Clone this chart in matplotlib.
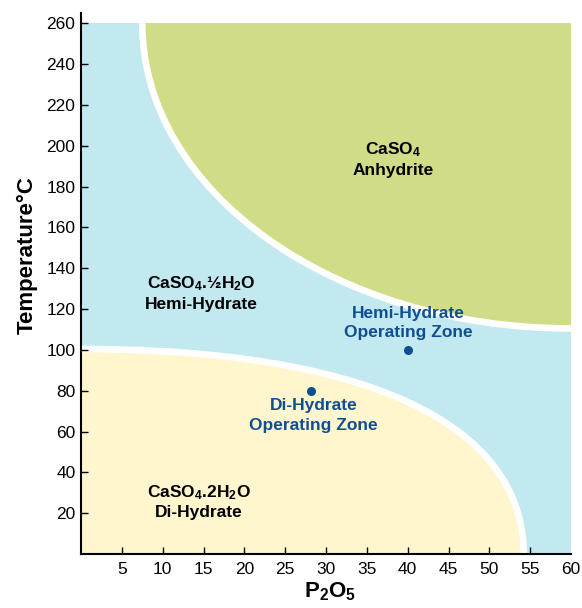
import numpy as np
import matplotlib
matplotlib.use('Agg')
import matplotlib.pyplot as plt
from matplotlib.path import Path
from matplotlib.patches import PathPatch, Rectangle

plt.rcParams['font.family'] = ['Liberation Sans', 'DejaVu Sans']
plt.rcParams['mathtext.fontset'] = 'custom'
plt.rcParams['mathtext.rm'] = 'Liberation Sans:bold'
plt.rcParams['mathtext.it'] = 'Liberation Sans:bold'
plt.rcParams['mathtext.bf'] = 'Liberation Sans:bold'
plt.rcParams['mathtext.default'] = 'rm'

# axis ranges / ticks (P2O5 %, temperature C)
x_ticks = [5, 10, 15, 20, 25, 30, 35, 40, 45, 50, 55, 60]
y_ticks = [20, 40, 60, 80, 100, 120, 140, 160, 180, 200, 220, 240, 260]
x_max = 60
t_max = 260

# phase boundaries: (start, end) of each curve
anhydrite_start = (7.5, 260)
anhydrite_end = (60, 110.5)
dihydrate_start = (0, 100.4)
dihydrate_end = (54.2, 0)

# operating points
op_x = [40, 28.2]
op_y = [100, 80]
op_labels = ['Hemi-Hydrate\nOperating Zone', 'Di-Hydrate\nOperating Zone']

phase_labels = ['CaSO$_4$\nAnhydrite',
                'CaSO$_4$.\u00bdH$_2$O\nHemi-Hydrate',
                'CaSO$_4$.2H$_2$O\nDi-Hydrate']

BLUE = '#c2e9f0'
GREEN = '#d1dc87'
YELLOW = '#fff6ce'
DARK = '#104e92'


def corner_curve(p0, p3, k, mode):
    # cubic bezier for a rounded quarter boundary
    if mode == 'top':  # leaves p0 going down, reaches p3 going right
        p1 = (p0[0], p0[1] - k * (p0[1] - p3[1]))
        p2 = (p3[0] - k * (p3[0] - p0[0]), p3[1])
    else:  # leaves p0 going right, reaches p3 going down
        p1 = (p0[0] + k * (p3[0] - p0[0]), p0[1])
        p2 = (p3[0], p3[1] + k * (p0[1] - p3[1]))
    return [p0, p1, p2, p3]


fig = plt.figure(figsize=(5.82, 6.08), dpi=100)
ax = fig.add_axes([81 / 582, 54 / 608, 490 / 582, 541 / 608])
ax.set_xlim(0, x_max)
ax.set_ylim(0, 265)

ax.add_patch(Rectangle((0, 0), x_max, t_max, facecolor=BLUE, edgecolor='none', zorder=0))

# anhydrite region
g = corner_curve(anhydrite_start, anhydrite_end, 0.5523, 'top')
fill = Path(g + [(x_max, t_max), g[0]],
            [Path.MOVETO, Path.CURVE4, Path.CURVE4, Path.CURVE4, Path.LINETO, Path.CLOSEPOLY])
ax.add_patch(PathPatch(fill, facecolor=GREEN, edgecolor='none', zorder=1))
ax.add_patch(PathPatch(Path(g, [Path.MOVETO, Path.CURVE4, Path.CURVE4, Path.CURVE4]),
                       facecolor='none', edgecolor='white', lw=4.8, capstyle='butt', zorder=1.5))

# di-hydrate region
y = corner_curve(dihydrate_start, dihydrate_end, 0.64, 'bottom')
fill = Path(y + [(0, 0), y[0]],
            [Path.MOVETO, Path.CURVE4, Path.CURVE4, Path.CURVE4, Path.LINETO, Path.CLOSEPOLY])
ax.add_patch(PathPatch(fill, facecolor=YELLOW, edgecolor='none', zorder=1))
ax.add_patch(PathPatch(Path(y, [Path.MOVETO, Path.CURVE4, Path.CURVE4, Path.CURVE4]),
                       facecolor='none', edgecolor='white', lw=4.8, capstyle='butt', zorder=1.5))

ax.plot(op_x, op_y, 'o', color=DARK, markersize=5.5, zorder=3)
ax.text(40.1, 113, op_labels[0], color=DARK, fontsize=12.5, fontweight='bold',
        ha='center', va='center', linespacing=1.35)
ax.text(28.5, 67.8, op_labels[1], color=DARK, fontsize=12.5, fontweight='bold',
        ha='center', va='center', linespacing=1.35)

ax.text(38.2, 193.4, phase_labels[0], fontsize=12.5, fontweight='bold',
        ha='center', va='center', linespacing=1.3)
ax.text(14.7, 127.8, phase_labels[1], fontsize=12.5, fontweight='bold',
        ha='center', va='center', linespacing=1.3)
ax.text(14.4, 25.7, phase_labels[2], fontsize=12.5, fontweight='bold',
        ha='center', va='center', linespacing=1.3)

for s in ['top', 'right']:
    ax.spines[s].set_visible(False)
for s in ['left', 'bottom']:
    ax.spines[s].set_linewidth(1.5)
    ax.spines[s].set_zorder(4)

ax.set_xticks(x_ticks)
ax.set_yticks(y_ticks)
ax.tick_params(direction='in', length=5, width=1, labelsize=12.5)
ax.tick_params(axis='x', pad=6)
ax.tick_params(axis='y', pad=4)
ax.xaxis.get_major_ticks()[-1].tick1line.set_visible(False)

fig.text(27 / 582, 1 - 255 / 608, 'Temperature\u00b0C', rotation=90, fontsize=16,
         fontweight='bold', ha='center', va='center')
fig.text(330 / 582, 1 - 592 / 608, 'P$_2$O$_5$', fontsize=16, fontweight='bold',
         ha='center', va='center')

fig.savefig('out.png', dpi=100)
